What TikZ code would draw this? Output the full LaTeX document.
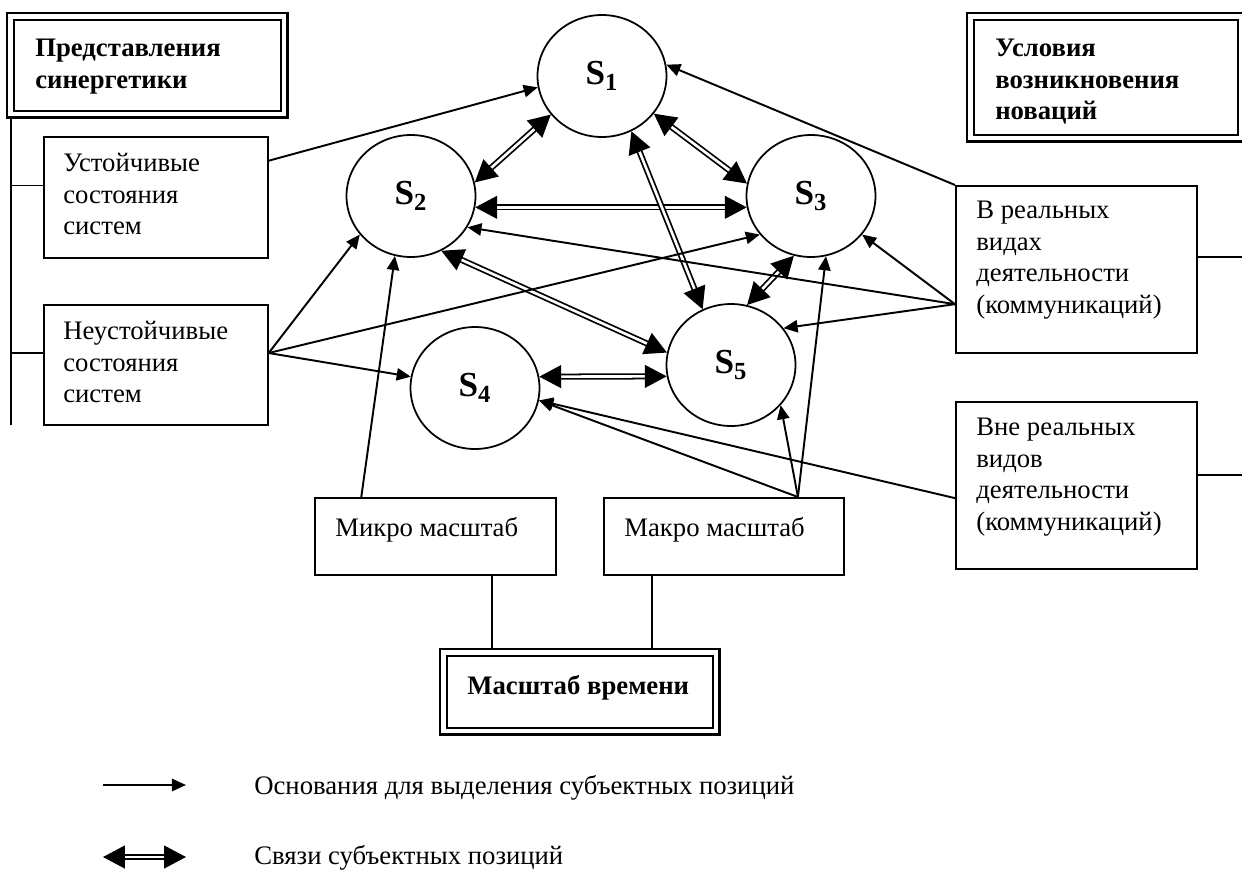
\documentclass[tikz,border=0pt]{standalone}
\usepackage{fontspec}
\setmainfont{Liberation Serif}
\usetikzlibrary{arrows.meta,shapes.geometric}
\begin{document}
\begin{tikzpicture}[x=0.02cm,y=-0.02cm,
    box/.style={draw, line width=1pt, anchor=north west, inner sep=0pt},
    txt/.style={anchor=north west, inner sep=0pt, align=left, font=\fontsize{15.2}{18}\selectfont},
    ttl/.style={txt, font=\fontsize{15.2}{18}\selectfont\bfseries},
    state/.style={draw, ellipse, line width=1pt, minimum width=2.58cm, minimum height=2.44cm,
      inner sep=0pt, font=\fontsize{20}{24}\selectfont\bfseries},
    arr/.style={line width=1.1pt, -{Triangle[length=8pt,width=7pt]}},
    dbl/.style={line width=1pt, double, double distance=1.5pt,
      {Triangle[length=12.5pt,width=13pt]}-{Triangle[length=12.5pt,width=13pt]}},
    frame/.style={line width=1.5pt},
    link/.style={line width=1.1pt}]
  \useasboundingbox (0,0) rectangle (1242,870);

  % title boxes
  \node[box, minimum width=5.34cm, minimum height=1.82cm] (syn) at (13,19) {};
  \node[box, minimum width=5.28cm, minimum height=2.30cm] (cond) at (973,19) {};
  \node[box, minimum width=5.32cm, minimum height=1.44cm] (time) at (446,655) {};
  \foreach \t in {syn,cond,time}
    \draw[frame] ([shift={(-3.4pt,3.4pt)}]\t.north west) rectangle ([shift={(3.4pt,-3.4pt)}]\t.south east);
  \node[ttl] (syntext) at ([shift={(22,15)}]syn.north west) {\strut Представления\\синергетики};
  \node[ttl] (condtext) at ([shift={(22,15)}]cond.north west) {\strut Условия\\возникновения\\новаций};
  \node[ttl] (timetext) at ([shift={(21,17)}]time.north west) {\strut Масштаб времени};

  % plain boxes
  \node[box, minimum width=4.48cm, minimum height=2.42cm] (ust) at (43,136) {};
  \node[box, minimum width=4.48cm, minimum height=2.40cm] (neust) at (43,304) {};
  \node[box, minimum width=4.82cm, minimum height=3.34cm] (real) at (955,185) {};
  \node[box, minimum width=4.82cm, minimum height=3.34cm] (vne) at (955,401) {};
  \node[box, minimum width=4.82cm, minimum height=1.54cm] (micro) at (314,497) {};
  \node[box, minimum width=4.80cm, minimum height=1.54cm] (macro) at (603,497) {};
  \node[txt] (usttext) at ([shift={(20,13)}]ust.north west) {\strut Устойчивые\\состояния\\систем};
  \node[txt] (neusttext) at ([shift={(20,13)}]neust.north west) {\strut Неустойчивые\\состояния\\систем};
  \node[txt] (realtext) at ([shift={(21,11)}]real.north west) {\strut В реальных\\видах\\деятельности\\(коммуникаций)};
  \node[txt] (vnetext) at ([shift={(21,12)}]vne.north west) {\strut Вне реальных\\видов\\деятельности\\(коммуникаций)};
  \node[txt] (microtext) at ([shift={(21,17)}]micro.north west) {\strut Микро масштаб};
  \node[txt] (macrotext) at ([shift={(21,17)}]macro.north west) {\strut Макро масштаб};

  % states
  \node[state] (s1) at (602,76) {S\textsubscript{1}};
  \node[state] (s2) at (411,196) {S\textsubscript{2}};
  \node[state] (s3) at (811,196) {S\textsubscript{3}};
  \node[state] (s4) at (475,388) {S\textsubscript{4}};
  \node[state] (s5) at (731,365) {S\textsubscript{5}};

  % tree lines
  \coordinate (spine) at (11,116);
  \coordinate (spineend) at (11,425);
  \coordinate (edge) at (1242,0);
  \coordinate (timetop) at ([yshift=3.4pt]time.north);
  \draw[link] (spine) -- (spineend);
  \draw[link] (ust.174) -- (ust.174 -| spine);
  \draw[link] (neust.174) -- (neust.174 -| spine);
  \draw[link] (real.6) -- (real.6 -| edge);
  \draw[link] (vne.5.5) -- (vne.5.5 -| edge);
  \draw[link] ([xshift=1.13cm]micro.south) -- ([xshift=1.13cm]micro.south |- timetop);
  \draw[link] ([xshift=-1.44cm]macro.south) -- ([xshift=-1.44cm]macro.south |- timetop);

  % links between states
  \draw[dbl] (s1.217) -- (s2.12);
  \draw[dbl] (s1.324) -- (s3.169);
  \draw[dbl] (s2.350) -- (s3.190);
  \draw[dbl] (s1.298) -- (s5.117);
  \draw[dbl] (s2.299) -- (s5.169);
  \draw[dbl] (s3.254) -- (s5.75);
  \draw[dbl] (s4.10) -- (s5.190);

  % grounds
  \draw[arr] (ust.18) -- (s1.190);
  \foreach \s/\a in {s2/217,s3/217,s4/170}
    \draw[arr] (neust.6) -- (\s.\a);
  \draw[arr] (real.north west) -- (s1.10);
  \foreach \s/\a in {s2/331,s3/323,s5/35}
    \draw[arr] (real.196) -- (\s.\a);
  \draw[arr] (vne.186) -- (s4.349);
  \foreach \s/\a in {s4/349,s5/321,s3/284}
    \draw[arr] (macro.28) -- (\s.\a);
  \draw[arr] (micro.152) -- (s2.255);

  % legend
  \coordinate (leg1a) at (103,785);
  \coordinate (leg1b) at (186,785);
  \coordinate (leg2a) at (103,857);
  \coordinate (leg2b) at (186,857);
  \draw[arr] (leg1a) -- (leg1b);
  \draw[dbl] (leg2a) -- (leg2b);
  \node[txt, anchor=base west] (leg1) at (254,794) {Основания для выделения субъектных позиций};
  \node[txt, anchor=base west] (leg2) at (254,864) {Связи субъектных позиций};
\end{tikzpicture}
\end{document}
